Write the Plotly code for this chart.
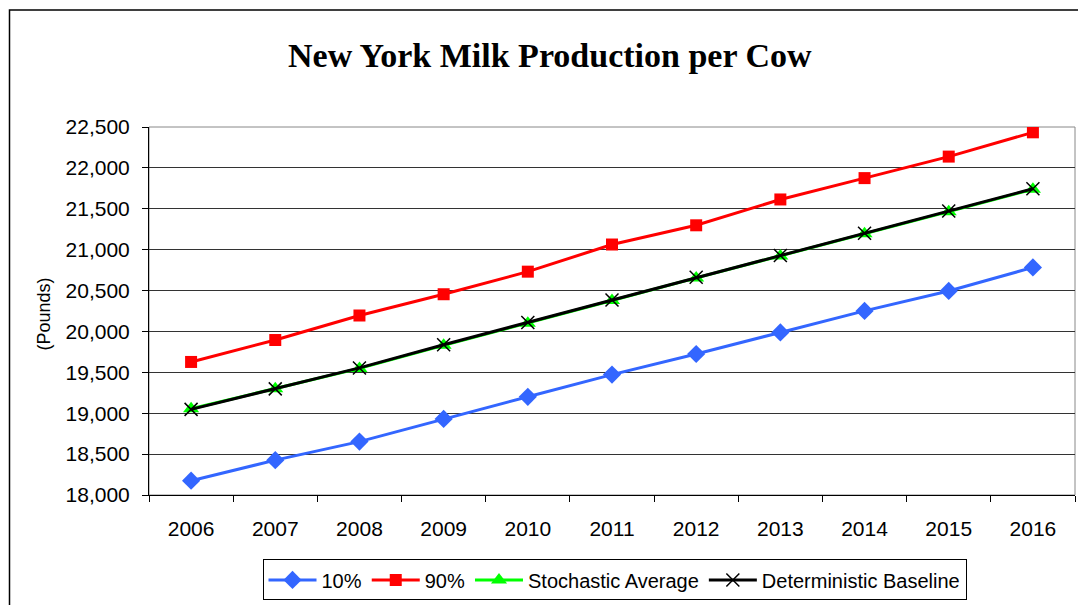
import plotly.graph_objects as go

years = ["2006", "2007", "2008", "2009", "2010", "2011", "2012", "2013", "2014", "2015", "2016"]
p10 = [18175, 18426, 18653, 18930, 19201, 19472, 19724, 19988, 20251, 20495, 20783]
p90 = [19627, 19895, 20195, 20455, 20731, 21063, 21298, 21614, 21875, 22138, 22435]
stoch_avg = [19055, 19300, 19548, 19830, 20100, 20378, 20655, 20922, 21195, 21465, 21738]
det_base = [19047, 19298, 19554, 19838, 20110, 20385, 20662, 20929, 21201, 21473, 21745]
y_ticks = [18000, 18500, 19000, 19500, 20000, 20500, 21000, 21500, 22000, 22500]

W, H = 1086, 605
OFF = 8  # page body margin offset
# target plot area in screen pixels: x 149..1075, y 127..498
L = 149 - OFF
T = 127 - OFF
R = W - (1075 - OFF)
B = H - (498 - OFF)
pw, ph = W - L - R, H - T - B

def px_x(x):
    return (x - OFF - L) / pw

def px_y(y):
    return (H - B - (y - OFF)) / ph

fig = go.Figure()
fig.add_trace(go.Scatter(x=years, y=p10, name="10%", mode="lines+markers",
                         line=dict(color="#3366FF", width=3),
                         marker=dict(symbol="diamond", size=14, color="#3366FF")))
fig.add_trace(go.Scatter(x=years, y=p90, name="90%", mode="lines+markers",
                         line=dict(color="#FF0000", width=3),
                         marker=dict(symbol="square", size=12, color="#FF0000")))
fig.add_trace(go.Scatter(x=years, y=stoch_avg, name="Stochastic Average", mode="lines+markers",
                         line=dict(color="#00FF00", width=3),
                         marker=dict(symbol="triangle-up", size=14, color="#00FF00")))
fig.add_trace(go.Scatter(x=years, y=det_base, name="Deterministic Baseline", mode="lines+markers",
                         line=dict(color="#000000", width=3),
                         marker=dict(symbol="x-thin", size=13, color="#000000",
                                     line=dict(color="#000000", width=1.5))))

fig.update_layout(
    width=W, height=H,
    margin=dict(l=L, r=R, t=T, b=B),
    paper_bgcolor="white", plot_bgcolor="white",
    font=dict(family="Liberation Sans, Arial, sans-serif", color="black", size=21),
    showlegend=True,
    legend=dict(orientation="h", x=px_x(614.5), xanchor="center", y=px_y(563), yanchor="top",
                bordercolor="black", borderwidth=1, font=dict(size=20),
                itemwidth=48, tracegroupgap=0),
    xaxis=dict(type="category", range=[-0.5, 10.5], tickson="boundaries",
               ticks="outside", ticklen=6, tickcolor="black", tickwidth=1,
               showline=True, linecolor="black", linewidth=1,
               showgrid=False, zeroline=False, tickfont=dict(size=21),
               ticklabelstandoff=15),
    yaxis=dict(range=[18000, 22500], tickvals=y_ticks, tickformat=",d",
               ticks="outside", ticklen=6, tickcolor="black", tickwidth=1,
               showline=True, linecolor="black", linewidth=1,
               showgrid=True, gridcolor="#333333", gridwidth=1,
               zeroline=False, tickfont=dict(size=21), ticklabelstandoff=8),
    shapes=[
        dict(type="rect", xref="paper", yref="paper", x0=0, x1=1, y0=0, y1=1,
             line=dict(color="#888888", width=1), layer="below"),
        dict(type="rect", xref="paper", yref="paper",
             x0=px_x(9.5), x1=px_x(1100), y0=px_y(620), y1=px_y(9),
             line=dict(color="black", width=1.5)),
    ],
    annotations=[
        dict(text="<b>New York Milk Production per Cow</b>", xref="paper", yref="paper",
             x=px_x(550), y=px_y(55), xanchor="center", yanchor="middle", showarrow=False,
             font=dict(family="Liberation Serif, Times New Roman, serif", size=34, color="black")),
        dict(text="(Pounds)", xref="paper", yref="paper", x=px_x(44), y=px_y(316),
             xanchor="center", yanchor="middle", textangle=-90, showarrow=False,
             font=dict(size=18, color="black")),
    ],
)

fig.write_html("out.html")
